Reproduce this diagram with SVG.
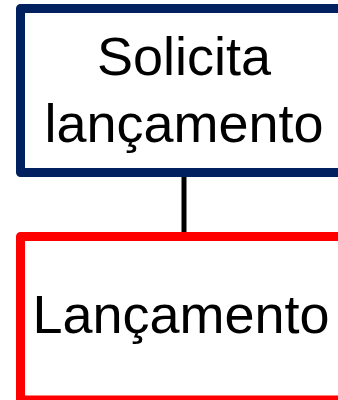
<svg xmlns="http://www.w3.org/2000/svg" width="338" height="400" viewBox="0 0 338 400">
<style>
.box{fill:#fff;stroke-width:9;stroke-linejoin:round}
.lbl{font-family:"Liberation Sans",Arial,sans-serif;font-size:54px;fill:#000;text-anchor:middle}
</style>
<rect width="338" height="400" fill="#fff"/>
<g id="connectors">
<line x1="184" y1="177" x2="184" y2="233" stroke="#000" stroke-width="5"/>
</g>
<g id="node-solicita">
<rect class="box" x="20.5" y="8.5" width="325" height="164" stroke="#002060"/>
<text class="lbl" x="184" y="75">Solicita</text>
<text class="lbl" x="184" y="142">lançamento</text>
</g>
<g id="node-lancamento">
<rect class="box" x="20.5" y="236.5" width="325" height="163.5" stroke="#ff0000"/>
<text class="lbl" x="181" y="333">Lançamento</text>
</g>
</svg>
